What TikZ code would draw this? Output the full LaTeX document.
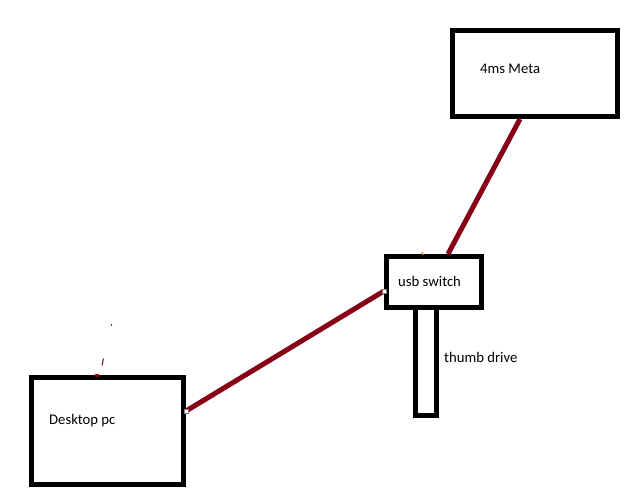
\documentclass[tikz,border=0pt]{standalone}
\usepackage{fontspec}
\setmainfont{Carlito}
\begin{document}
\begin{tikzpicture}[x=1pt,y=-1pt,
  box/.style={draw=black,line width=5pt,fill=white,inner sep=0pt,minimum width=#1},
  lbl/.style={anchor=west,inner sep=0pt,font=\fontsize{14.7}{16}\selectfont,text=black},
  wire/.style={draw={rgb,255:red,136;green,0;blue,21},line width=5pt},
  handle/.style={draw=gray,fill=white,line width=0.6pt,minimum size=4pt,inner sep=0pt}]
\useasboundingbox[fill=white] (0,0) rectangle (643,495);
\definecolor{wirered}{RGB}{136,0,21}
% boxes
\node[box=165pt,minimum height=86pt] (meta) at (535,73.5) {};
\node[box=21pt,minimum height=108pt] (thumb) at (426,361.5) {};
\node[box=95pt,minimum height=51pt] (usb) at (434,282) {};
\node[box=152pt,minimum height=107pt] (desk) at (107.5,431) {};
% labels
\node[lbl] (tmeta) at (480,69) {4ms Meta};
\node[lbl] (tusb) at (398,281) {usb switch};
\node[lbl] (tthumb) at (444,357) {thumb drive};
\node[lbl] (tdesk) at (49,421) {Desktop pc};
% connectors
\draw[wire] ([yshift=20pt]desk.east) -- ([yshift=-9pt]usb.west);
\draw[wire] ([xshift=-15pt]meta.south) -- ([xshift=14pt]usb.north);
\node[handle] (h1) at ([yshift=20pt]desk.east) {};
\node[handle] (h2) at ([yshift=-9pt]usb.west) {};
% small stray marks
\fill[wirered] (111.5,325) circle (0.8pt);
\draw[wirered,line width=1pt] (103.5,358.5) -- (102,365.5);
\fill[wirered] (97,375.5) ellipse (3pt and 1.5pt);
\draw[orange,line width=1.2pt] (422,252) -- (423,255);
\end{tikzpicture}
\end{document}
